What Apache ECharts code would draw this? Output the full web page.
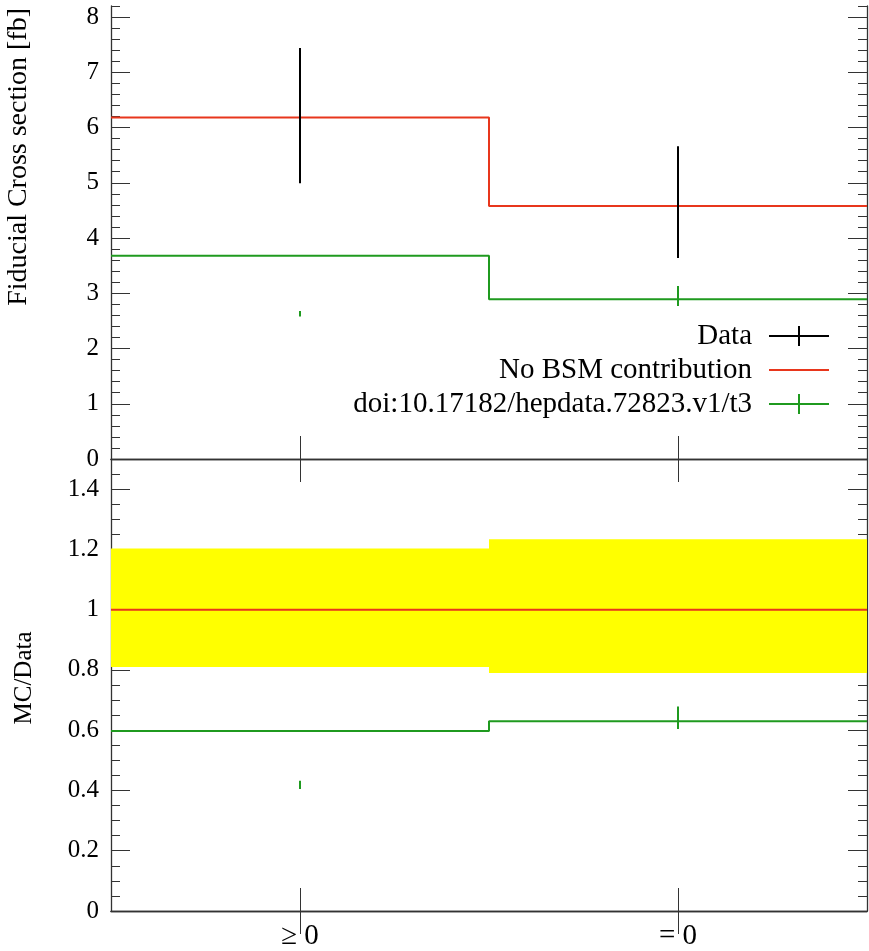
<!DOCTYPE html>
<html><head><meta charset="utf-8">
<script src="https://cdn.jsdelivr.net/npm/echarts@6/dist/echarts.min.js"></script>
<style>html,body{margin:0;padding:0;background:#fff}#c{width:869px;height:951px}</style>
</head><body><div id="c"></div>
<script>
// ---- data ----
const categories = ['\u2265 0', '= 0'];
const binEdges = [0, 1, 2];
const dataValues = [6.18, 4.58];
const dataErrLow = [4.99, 3.64];
const dataErrHigh = [7.44, 5.66];
const noBsmValues = [6.18, 4.58];
const hepdataValues = [3.68, 2.89];
const hepdataErrLow = [2.58, 2.77];
const hepdataErrHigh = [2.68, 3.13];
const ratioBandLow = [0.81, 0.79];
const ratioBandHigh = [1.203, 1.234];
const ratioNoBsm = [1, 1];
const ratioHepdata = [0.597, 0.630];
const ratioHepdataErrLow = [0.405, 0.604];
const ratioHepdataErrHigh = [0.432, 0.679];
const topMajorTicks = [0, 1, 2, 3, 4, 5, 6, 7, 8];
const ratioMajorTicks = [0, 0.2, 0.4, 0.6, 0.8, 1, 1.2, 1.4];
const seriesNames = ['Data', 'No BSM contribution', 'doi:10.17182/hepdata.72823.v1/t3'];

const topMax = 8.2, ratioMax = 1.5;
const topMinorTicks = []; for (let i = 0; i <= 41; i++) topMinorTicks.push(Math.round(i * 2) / 10);
const ratioMinorTicks = []; for (let i = 0; i <= 30; i++) ratioMinorTicks.push(Math.round(i * 5) / 100);

const RED = '#e8361c', GREEN = '#1f9a1f', BLACK = '#000', AX = '#333';
const FONT = 'Liberation Serif';

const centers = categories.map((c, i) => (binEdges[i] + binEdges[i + 1]) / 2);
const stepData = vals => binEdges.map((e, i) => [e, vals[Math.min(i, vals.length - 1)]]);
const errData = (lo, hi) => centers.map((c, i) => [c, lo[i], hi[i]]);

function yAx(grid, pos, max, ticks, len, showLine, showLabel) {
  return {
    type: 'value', gridIndex: grid, position: pos, min: 0, max: max,
    axisLine: { show: showLine, lineStyle: { color: AX, width: 1.3 } },
    axisTick: { show: true, inside: true, length: len, customValues: ticks, lineStyle: { color: AX, width: 1 } },
    axisLabel: { show: showLabel, customValues: ticks, fontFamily: FONT, fontSize: 25, color: '#000', margin: 12 },
    splitLine: { show: false }
  };
}
function xAx(grid, pos, showLabel) {
  return {
    type: 'value', gridIndex: grid, position: pos, min: binEdges[0], max: binEdges[binEdges.length - 1],
    axisLine: { show: true, lineStyle: { color: AX, width: 1.3 } },
    axisTick: { show: true, inside: true, length: 23, customValues: centers, lineStyle: { color: AX, width: 1 } },
    axisLabel: { show: showLabel, customValues: centers, fontFamily: FONT, fontSize: 29, color: '#000', margin: 11,
      formatter: v => categories[centers.findIndex(c => Math.abs(c - v) < 1e-6)] },
    splitLine: { show: false }
  };
}
function errSeries(name, xi, yi, data, color, z) {
  return {
    name: name, type: 'custom', xAxisIndex: xi, yAxisIndex: yi, z: z, data: data,
    itemStyle: { color: color },
    renderItem: (params, api) => {
      const p1 = api.coord([api.value(0), api.value(1)]);
      const p2 = api.coord([api.value(0), api.value(2)]);
      return { type: 'line', shape: { x1: p1[0], y1: p1[1], x2: p2[0], y2: p2[1] }, style: { stroke: color, lineWidth: 2 } };
    }
  };
}
function stepSeries(name, xi, yi, vals, color, z) {
  return { name: name, type: 'line', step: 'end', xAxisIndex: xi, yAxisIndex: yi, z: z, data: stepData(vals),
    showSymbol: false, symbol: 'none', itemStyle: { color: color }, lineStyle: { color: color, width: 2 } };
}

const crossIcon = 'path://M0,9H60V11H0Z M29,0H31V20H29Z';
const lineIcon = 'path://M0,9H60V11H0Z';

const option = {
  animation: false,
  backgroundColor: '#fff',
  grid: [
    { left: 111, right: 2, top: 6, height: 453 },
    { left: 111, right: 2, top: 459, height: 453 }
  ],
  xAxis: [xAx(0, 'bottom', false), xAx(0, 'top', false), xAx(1, 'bottom', true), xAx(1, 'top', false)],
  yAxis: [
    yAx(0, 'left', topMax, topMajorTicks, 19, true, true),
    yAx(0, 'left', topMax, topMinorTicks, 9, false, false),
    yAx(0, 'right', topMax, topMajorTicks, 19, true, false),
    yAx(0, 'right', topMax, topMinorTicks, 9, false, false),
    yAx(1, 'left', ratioMax, ratioMajorTicks, 19, true, true),
    yAx(1, 'left', ratioMax, ratioMinorTicks, 9, false, false),
    yAx(1, 'right', ratioMax, ratioMajorTicks, 19, true, false),
    yAx(1, 'right', ratioMax, ratioMinorTicks, 9, false, false)
  ],
  legend: {
    data: [
      { name: seriesNames[0], icon: crossIcon },
      { name: seriesNames[1], icon: lineIcon },
      { name: seriesNames[2], icon: crossIcon }
    ],
    orient: 'vertical', align: 'right', right: 40, top: 319, padding: 0,
    itemWidth: 60, itemHeight: 20, itemGap: 0, symbolKeepAspect: true, selectedMode: false,
    itemStyle: { borderWidth: 0 },
    textStyle: { fontFamily: FONT, fontSize: 29, color: '#000', lineHeight: 34, padding: [0, 12, 0, 0] }
  },
  graphic: [
    { type: 'text', x: 19, y: 8, rotation: Math.PI / 2,
      style: { text: 'Fiducial Cross section [fb]', font: '28px "Liberation Serif"', fill: '#000', textAlign: 'right', textVerticalAlign: 'middle' } },
    { type: 'text', x: 24, y: 678, rotation: Math.PI / 2,
      style: { text: 'MC/Data', font: '25px "Liberation Serif"', fill: '#000', textAlign: 'center', textVerticalAlign: 'middle' } }
  ],
  series: [
    stepSeries(seriesNames[1], 0, 0, noBsmValues, RED, 3),
    stepSeries(seriesNames[2], 0, 0, hepdataValues, GREEN, 3),
    errSeries('hepdataErr', 0, 0, errData(hepdataErrLow, hepdataErrHigh), GREEN, 4),
    errSeries(seriesNames[0], 0, 0, errData(dataErrLow, dataErrHigh), BLACK, 5),
    {
      name: 'band', type: 'custom', xAxisIndex: 2, yAxisIndex: 4, z: 1,
      data: categories.map((c, i) => [binEdges[i], binEdges[i + 1], ratioBandLow[i], ratioBandHigh[i]]),
      renderItem: (params, api) => {
        const a = api.coord([api.value(0), api.value(3)]);
        const b = api.coord([api.value(1), api.value(2)]);
        return { type: 'rect', shape: { x: a[0], y: a[1], width: b[0] - a[0], height: b[1] - a[1] }, style: { fill: '#ffff00' } };
      }
    },
    stepSeries('ratioNoBsm', 2, 4, ratioNoBsm, RED, 3),
    stepSeries('ratioHepdata', 2, 4, ratioHepdata, GREEN, 3),
    errSeries('ratioHepdataErr', 2, 4, errData(ratioHepdataErrLow, ratioHepdataErrHigh), GREEN, 4)
  ]
};
const chart = echarts.init(document.getElementById('c'), null, { renderer: 'canvas' });
chart.setOption(option);
</script></body></html>
